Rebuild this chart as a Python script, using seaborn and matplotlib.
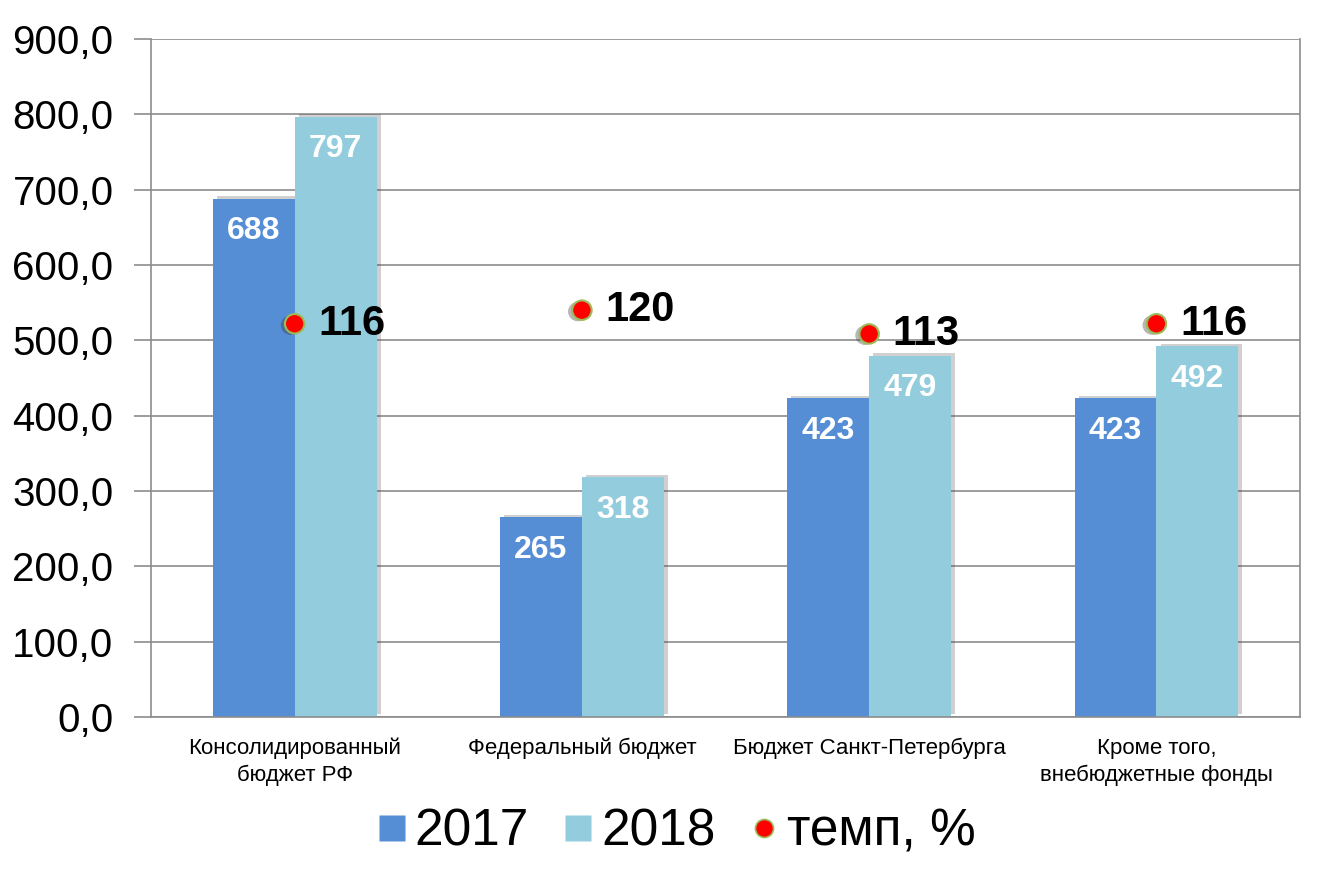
import matplotlib.pyplot as plt
import matplotlib.patheffects as pe
from matplotlib.lines import Line2D
from matplotlib.ticker import FuncFormatter, FixedLocator
import seaborn as sns
import pandas as pd

categories = ["Консолидированный\nбюджет РФ", "Федеральный бюджет",
              "Бюджет Санкт-Петербурга", "Кроме того,\nвнебюджетные фонды"]
values_2017 = [688, 265, 423, 423]
values_2018 = [797, 318, 479, 492]
tempo = [116, 120, 113, 116]
years = ["2017", "2018"]

sns.set_style("white")
plt.rcParams["font.family"] = ["Liberation Sans", "DejaVu Sans"]
plt.rcParams["text.color"] = "black"
plt.rcParams["xtick.labelcolor"] = "black"
plt.rcParams["ytick.labelcolor"] = "black"

df = pd.DataFrame({
    "cat": categories * 2,
    "year": [years[0]] * 4 + [years[1]] * 4,
    "value": values_2017 + values_2018,
})

colors = {"2017": "#558ED5", "2018": "#93CDDD"}
grid_c = "#8c8c8c"

fig = plt.figure(figsize=(13.39, 8.76), dpi=100)
ax = fig.add_axes([0.1128, 0.1815, 0.8581, 0.774])

sns.barplot(data=df, x="cat", y="value", hue="year", palette=colors,
            order=categories, hue_order=years, width=0.57, gap=0,
            saturation=1, legend=False, ax=ax)

shadow = [pe.SimplePatchShadow(offset=(3, 2), shadow_rgbFace="#444444", alpha=0.25),
          pe.Normal()]
for cont in ax.containers:
    for bar in cont:
        bar.set_path_effects(shadow)
        bar.set_edgecolor("none")
    ax.bar_label(cont, fmt="{:.0f}", padding=-34, color="white",
                 fontsize=23, fontweight="bold")

ax.set_ylim(0, 900)
ax.set_xlim(-0.5, 3.5)
ax.set_yticks(range(0, 901, 100))
ax.yaxis.set_major_formatter(FuncFormatter(lambda v, p: f"{v:.1f}".replace(".", ",")))
ax.grid(axis="y", color=grid_c, linewidth=1.2)
ax.set_axisbelow(True)
ax.tick_params(axis="y", labelsize=29, length=12, color=grid_c, width=1.2, pad=15)
ax.tick_params(axis="x", which="major", labelsize=16, length=0, pad=15)
ax.xaxis.set_minor_locator(FixedLocator([-0.5, 0.5, 1.5, 2.5, 3.5]))
ax.tick_params(axis="x", which="minor", length=10, color=grid_c, width=1.2)
ax.set_xlabel("")
ax.set_ylabel("")
for s in ["left", "bottom", "right", "top"]:
    ax.spines[s].set_visible(True)
    ax.spines[s].set_color(grid_c)
    ax.spines[s].set_linewidth(1.2)
ax.spines["top"].set_visible(False)

ax2 = ax.twinx()
ax2.set_ylim(0, 200)
sns.stripplot(x=list(range(len(categories))), y=tempo, native_scale=True, jitter=False,
              color="#FF0000", edgecolor="#9BBB59", linewidth=1.5, size=14,
              ax=ax2, zorder=5)
dot_shadow = [pe.SimpleLineShadow(offset=(-3, -1), shadow_color="#333333", alpha=0.3),
              pe.Normal()]
for coll in ax2.collections:
    coll.set_path_effects([pe.SimplePatchShadow(offset=(-3, -1), shadow_rgbFace="#333333",
                                                alpha=0.35), pe.Normal()])
for i, t in enumerate(tempo):
    ax2.annotate(str(t), (i, t), xytext=(17, 0), textcoords="offset points",
                 va="center", ha="left", fontsize=30, fontweight="bold", color="black")
ax2.set_xlim(-0.5, 3.5)
ax2.set_yticks([])
for s in ax2.spines.values():
    s.set_visible(False)
ax.set_xticks(range(len(categories)))
ax.set_xticklabels(categories, linespacing=1.35)

handles = [
    Line2D([], [], marker="s", linestyle="none", markersize=19,
           markerfacecolor=colors["2017"], markeredgecolor="none"),
    Line2D([], [], marker="s", linestyle="none", markersize=19,
           markerfacecolor=colors["2018"], markeredgecolor="none"),
    Line2D([], [], marker="o", linestyle="none", markersize=13,
           markerfacecolor="#FF0000", markeredgecolor="#9BBB59", markeredgewidth=1.2),
]
fig.legend(handles, ["2017", "2018", "темп, %"], loc="center",
           bbox_to_anchor=(0.503, 0.05), ncol=3, frameon=False, fontsize=37,
           handletextpad=0.05, columnspacing=0.55, handlelength=0.8)

fig.savefig("out.png", dpi=100)
